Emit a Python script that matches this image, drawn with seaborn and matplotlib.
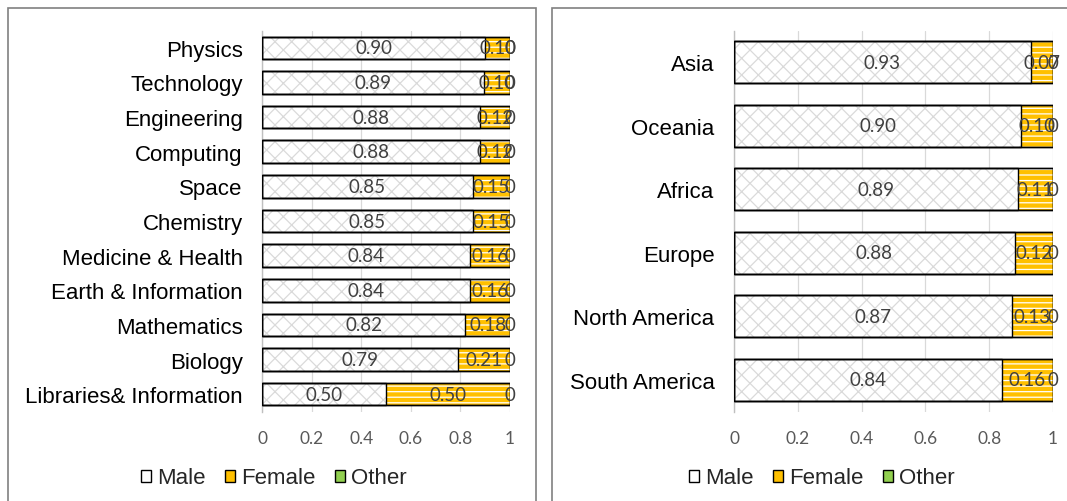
import numpy as np
import pandas as pd
import seaborn as sns
import matplotlib
matplotlib.use("Agg")
import matplotlib.pyplot as plt
from matplotlib.patches import Rectangle, Patch

# ---- data ----
fields = ["Physics", "Technology", "Engineering", "Computing", "Space", "Chemistry",
          "Medicine & Health", "Earth & Information", "Mathematics", "Biology",
          "Libraries& Information"]
fields_male = [0.90, 0.8949, 0.88, 0.88, 0.85, 0.85, 0.84, 0.84, 0.82, 0.79, 0.50]
fields_female = [0.10, 0.1049, 0.12, 0.12, 0.15, 0.15, 0.16, 0.16, 0.18, 0.21, 0.50]
fields_other = [0, 0, 0, 0, 0, 0, 0, 0, 0, 0, 0]

regions = ["Asia", "Oceania", "Africa", "Europe", "North America", "South America"]
regions_male = [0.93, 0.90, 0.89, 0.88, 0.87, 0.84]
regions_female = [0.07, 0.10, 0.11, 0.12, 0.13, 0.16]
regions_other = [0, 0, 0, 0, 0, 0]

x_ticks = [0, 0.2, 0.4, 0.6, 0.8, 1]
x_tick_labels = ["0", "0.2", "0.4", "0.6", "0.8", "1"]
series_names = ["Male", "Female", "Other"]

# ---- style ----
sns.set_style("white")
plt.rcParams["font.family"] = ["Liberation Sans", "DejaVu Sans"]
plt.rcParams["hatch.linewidth"] = 0.9

MALE_FACE = "white"
MALE_HATCH = "#DADADA"
FEMALE_FACE = "#FFC000"
OTHER_FACE = "#92D050"
LABEL_COLOR = "#404040"
TICK_COLOR = "#595959"
GRID_COLOR = "#D9D9D9"
NUM_FONT = ["Lato", "DejaVu Sans"]

fig = plt.figure(figsize=(10.67, 5.02), dpi=100)


def outline(ax, p):
    ax.add_patch(Rectangle(p.get_xy(), p.get_width(), p.get_height(),
                           fill=False, edgecolor="black", linewidth=1.0, zorder=4))


def draw_panel(ax, cats, male, female, other, bar_h):
    df = pd.DataFrame({"cat": cats,
                       "male": male,
                       "female": female,
                       "other": other})
    df["mf"] = df["male"] + df["female"]
    df["total"] = df["mf"] + df["other"]

    # stacked segments: draw cumulative totals back to front
    layers = [("total", OTHER_FACE, None, OTHER_FACE),
              ("mf", FEMALE_FACE, "---", "white"),
              ("male", MALE_FACE, "xx", MALE_HATCH)]
    for col, face, hatch, hcol in layers:
        n0 = len(ax.patches)
        sns.barplot(data=df, x=col, y="cat", orient="y", color=face,
                    width=bar_h, ax=ax, saturation=1, errorbar=None)
        for p in ax.patches[n0:]:
            p.set_facecolor(face)
            p.set_edgecolor(hcol)
            p.set_linewidth(0)
            if hatch:
                p.set_hatch(hatch)
            p.set_zorder(3)
    # segment outlines
    for p in list(ax.patches):
        outline(ax, p)

    # value labels
    for i, (m, f, o) in enumerate(zip(male, female, other)):
        for xc, txt in [(m / 2, f"{m:.2f}"), (m + f / 2, f"{f:.2f}"),
                        (m + f + o / 2, f"{o:g}")]:
            ax.text(xc, i, txt, ha="center", va="center", color=LABEL_COLOR,
                    fontsize=13.5, family=NUM_FONT, zorder=6)

    ax.set_xlim(0, 1)
    ax.set_ylim(len(cats) - 0.5, -0.5)
    ax.set_xticks(x_ticks)
    ax.set_xticklabels(x_tick_labels, color=TICK_COLOR, fontsize=12.5, family=NUM_FONT)
    ax.tick_params(axis="x", length=0, pad=13)
    ax.tick_params(axis="y", length=0, pad=14, labelsize=16, labelcolor="black")
    ax.set_xlabel("")
    ax.set_ylabel("")
    ax.grid(axis="x", color=GRID_COLOR, linewidth=0.9, zorder=0)
    ax.set_axisbelow(True)
    for s in ["top", "right", "bottom"]:
        ax.spines[s].set_visible(False)
    ax.spines["left"].set_color("#BFBFBF")
    ax.spines["left"].set_linewidth(1)


ax1 = fig.add_axes([262 / 1067, 1 - 412.5 / 502, 248 / 1067, 381 / 502])
draw_panel(ax1, fields, fields_male, fields_female, fields_other, 0.65)

ax2 = fig.add_axes([734 / 1067, 1 - 412.5 / 502, 319 / 1067, 381 / 502])
draw_panel(ax2, regions, regions_male, regions_female, regions_other, 0.66)

# panel frames
for x0, x1 in [(8, 536), (552, 1092)]:
    fig.add_artist(Rectangle((x0 / 1067, -0.1), (x1 - x0) / 1067, 1.1 - 9 / 502,
                             transform=fig.transFigure, fill=False,
                             edgecolor="#808080", linewidth=1.2))

# legends
handles = [Patch(facecolor=MALE_FACE, edgecolor="black", linewidth=1),
           Patch(facecolor=FEMALE_FACE, edgecolor="black", linewidth=1),
           Patch(facecolor=OTHER_FACE, edgecolor="black", linewidth=1)]
for cx in [274 / 1067, 822 / 1067]:
    fig.legend(handles, series_names, loc="center", bbox_to_anchor=(cx, 1 - 479 / 502),
               ncol=3, frameon=False, fontsize=16, handlelength=0.45,
               handleheight=0.45, handletextpad=0.25, columnspacing=0.9,
               borderaxespad=0)

fig.savefig("out.png", dpi=100)
